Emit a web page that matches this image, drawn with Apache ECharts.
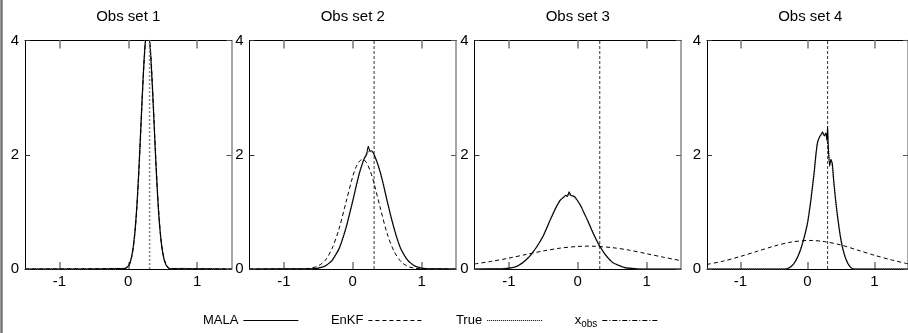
<!DOCTYPE html>
<html>
<head>
<meta charset="utf-8">
<script src="https://cdn.jsdelivr.net/npm/echarts@6/dist/echarts.min.js"></script>
<style>html,body{margin:0;padding:0;background:#fff;}#c{width:908px;height:333px;}</style>
</head>
<body>
<div id="c"></div>
<script>
// ---- data ----
const panelTitles = ['Obs set 1', 'Obs set 2', 'Obs set 3', 'Obs set 4'];
const xTicks = [-1, 0, 1];
const yTicks = [0, 2, 4];
const obsX = [0.31, 0.31, 0.32, 0.30];

// Panel 1
const p1X    = [-1.5, -0.05, 0, 0.025, 0.05, 0.075, 0.1, 0.125, 0.15, 0.175, 0.2, 0.225, 0.25, 0.275, 0.3, 0.325, 0.35, 0.375, 0.4, 0.425, 0.45, 0.475, 0.5, 0.525, 0.55, 0.575, 0.6, 1.5];
const p1Mala = [0, 0.01, 0.05, 0.11, 0.22, 0.41, 0.69, 1.10, 1.64, 2.28, 2.94, 3.55, 4.0, 4.2, 4.11, 3.76, 3.2, 2.55, 1.89, 1.31, 0.84, 0.51, 0.29, 0.15, 0.07, 0.03, 0.01, 0];
const p1Enkf = [0, 0.01, 0.04, 0.10, 0.21, 0.39, 0.67, 1.07, 1.60, 2.22, 2.90, 3.52, 3.98, 4.2, 4.13, 3.80, 3.25, 2.60, 1.94, 1.35, 0.87, 0.53, 0.30, 0.16, 0.08, 0.03, 0.01, 0];
const p1True = [0, 0.01, 0.05, 0.11, 0.22, 0.40, 0.68, 1.09, 1.62, 2.26, 2.93, 3.55, 4.02, 4.22, 4.12, 3.78, 3.22, 2.57, 1.90, 1.32, 0.85, 0.52, 0.29, 0.15, 0.07, 0.03, 0.01, 0];

// Panel 2
const p2X    = [-1.5, -0.6, -0.5, -0.4, -0.3, -0.2, -0.1, 0, 0.05, 0.1, 0.15, 0.175, 0.2, 0.225, 0.25, 0.275, 0.3, 0.35, 0.4, 0.45, 0.5, 0.55, 0.6, 0.65, 0.7, 0.8, 0.9, 1.0, 1.1, 1.5];
const p2Mala = [0, 0.004, 0.016, 0.052, 0.15, 0.35, 0.71, 1.19, 1.45, 1.69, 1.88, 1.95, 2.00, 2.15, 2.06, 2.07, 2.03, 1.88, 1.69, 1.45, 1.19, 0.94, 0.71, 0.51, 0.35, 0.15, 0.052, 0.016, 0.004, 0];
const p2True = [0, 0.004, 0.017, 0.054, 0.15, 0.36, 0.72, 1.20, 1.46, 1.70, 1.88, 1.96, 2.02, 2.05, 2.06, 2.05, 2.02, 1.89, 1.70, 1.46, 1.20, 0.95, 0.72, 0.52, 0.35, 0.15, 0.054, 0.017, 0.004, 0];
const p2EnkfX = [-1.5, -0.8, -0.7, -0.6, -0.5, -0.4, -0.3, -0.2, -0.1, 0, 0.05, 0.1, 0.15, 0.2, 0.25, 0.3, 0.4, 0.5, 0.6, 0.7, 0.8, 0.9, 1.0, 1.5];
const p2Enkf  = [0, 0.001, 0.004, 0.017, 0.055, 0.15, 0.36, 0.70, 1.16, 1.62, 1.79, 1.89, 1.92, 1.86, 1.73, 1.54, 1.07, 0.62, 0.31, 0.13, 0.044, 0.013, 0.003, 0];

// Panel 3
const p3X    = [-1.5, -1.1, -1.0, -0.9, -0.8, -0.7, -0.6, -0.5, -0.4, -0.35, -0.3, -0.25, -0.2, -0.175, -0.15, -0.125, -0.1, -0.05, 0, 0.05, 0.1, 0.15, 0.2, 0.25, 0.3, 0.35, 0.4, 0.5, 0.6, 0.7, 0.8, 0.9, 1.5];
const p3Mala = [0, 0.005, 0.015, 0.04, 0.11, 0.22, 0.38, 0.58, 0.86, 0.99, 1.11, 1.21, 1.26, 1.29, 1.27, 1.35, 1.29, 1.27, 1.19, 1.09, 0.96, 0.83, 0.69, 0.56, 0.44, 0.34, 0.25, 0.12, 0.06, 0.02, 0.01, 0, 0];
const p3True = [0, 0.005, 0.016, 0.04, 0.11, 0.22, 0.38, 0.59, 0.86, 1.00, 1.12, 1.21, 1.27, 1.28, 1.30, 1.30, 1.29, 1.26, 1.19, 1.09, 0.96, 0.83, 0.69, 0.56, 0.44, 0.34, 0.25, 0.12, 0.06, 0.02, 0.01, 0, 0];
const p3EnkfX = [-1.5, -1.25, -1.0, -0.75, -0.5, -0.25, 0, 0.15, 0.25, 0.5, 0.75, 1.0, 1.25, 1.5];
const p3Enkf  = [0.088, 0.135, 0.19, 0.255, 0.316, 0.366, 0.395, 0.40, 0.398, 0.374, 0.33, 0.268, 0.205, 0.146];

// Panel 4
const p4X    = [-1.5, -0.35, -0.3, -0.25, -0.2, -0.15, -0.1, -0.05, 0, 0.05, 0.1, 0.125, 0.15, 0.175, 0.2, 0.225, 0.25, 0.275, 0.29, 0.3, 0.31, 0.33, 0.35, 0.37, 0.39, 0.42, 0.45, 0.5, 0.55, 0.6, 0.65, 0.7, 1.5];
const p4Mala = [0, 0, 0.01, 0.04, 0.10, 0.20, 0.35, 0.55, 0.80, 1.20, 1.70, 2.00, 2.22, 2.30, 2.35, 2.40, 2.33, 2.38, 2.25, 2.50, 2.15, 1.80, 1.92, 1.85, 1.55, 1.20, 0.90, 0.50, 0.25, 0.10, 0.02, 0, 0];
const p4True = [0, 0, 0.01, 0.04, 0.10, 0.21, 0.36, 0.56, 0.82, 1.22, 1.68, 1.98, 2.20, 2.30, 2.34, 2.36, 2.35, 2.33, 2.28, 2.22, 2.12, 1.90, 1.88, 1.80, 1.58, 1.22, 0.92, 0.52, 0.26, 0.11, 0.03, 0, 0];
const p4EnkfX = [-1.5, -1.25, -1.0, -0.75, -0.5, -0.25, 0.03, 0.25, 0.5, 0.75, 1.0, 1.25, 1.5];
const p4Enkf  = [0.08, 0.14, 0.22, 0.31, 0.40, 0.47, 0.50, 0.48, 0.42, 0.33, 0.24, 0.16, 0.09];

const seriesNames = ['MALA', 'EnKF', 'True', 'x_obs'];

// ---- build ----
const panels = [
  {malaX: p1X, mala: p1Mala, trueX: p1X, tru: p1True, enkfX: p1X, enkf: p1Enkf},
  {malaX: p2X, mala: p2Mala, trueX: p2X, tru: p2True, enkfX: p2EnkfX, enkf: p2Enkf},
  {malaX: p3X, mala: p3Mala, trueX: p3X, tru: p3True, enkfX: p3EnkfX, enkf: p3Enkf},
  {malaX: p4X, mala: p4Mala, trueX: p4X, tru: p4True, enkfX: p4EnkfX, enkf: p4Enkf}
];
const zip = (xs, ys) => xs.map((x, i) => [x, ys[i]]);

const gridLefts = [25, 249.5, 474.5, 707];
const gridW = 206.5;
const gridTop = 40.5;
const gridH = 228.5;
const FONT = "'Liberation Sans Narrow', 'Arial Narrow', 'Liberation Sans', sans-serif";

const grids = [], xAxes = [], yAxes = [], series = [], graphics = [];
panels.forEach((p, i) => {
  grids.push({left: gridLefts[i], top: gridTop, width: gridW, height: gridH, containLabel: false});
  xAxes.push({
    type: 'value', gridIndex: i, min: -1.5, max: 1.5, position: 'bottom',
    axisLine: {show: true, onZero: false, lineStyle: {color: '#000', width: 1}},
    axisTick: {show: true, inside: true, length: 7, customValues: xTicks, lineStyle: {color: '#999', width: 2}},
    axisLabel: {show: true, customValues: xTicks, color: '#000', fontSize: 15, fontFamily: FONT, margin: 5},
    splitLine: {show: false}
  });
  xAxes.push({
    type: 'value', gridIndex: i, min: -1.5, max: 1.5, position: 'top',
    axisLine: {show: true, onZero: false, lineStyle: {color: '#000', width: 1}},
    axisTick: {show: true, inside: true, length: 8, customValues: xTicks, lineStyle: {color: '#999', width: 2}},
    axisLabel: {show: false},
    splitLine: {show: false}
  });
  yAxes.push({
    type: 'value', gridIndex: i, min: 0, max: 4, interval: 2, position: 'left',
    axisLine: {show: true, onZero: false, lineStyle: {color: '#000', width: 1}},
    axisTick: {show: true, inside: true, length: 5, lineStyle: {color: '#333', width: 1}},
    axisLabel: {show: true, color: '#000', fontSize: 15, fontFamily: FONT, margin: 6},
    splitLine: {show: false}
  });
  yAxes.push({
    type: 'value', gridIndex: i, min: 0, max: 4, interval: 2, position: 'right',
    axisLine: {show: true, onZero: false, lineStyle: {color: '#888', width: 1.5}},
    axisTick: {show: true, inside: true, length: 5, lineStyle: {color: '#555', width: 1}},
    axisLabel: {show: false},
    splitLine: {show: false}
  });
  const xi = i * 2, yi = i * 2;
  series.push({
    name: 'True', type: 'line', xAxisIndex: xi, yAxisIndex: yi, symbol: 'none', smooth: 0.2,
    data: zip(p.trueX, p.tru), itemStyle: {color: '#000'}, lineStyle: {color: '#888', width: 1.6, type: [1, 1]}, z: 2
  });
  series.push({
    name: 'EnKF', type: 'line', xAxisIndex: xi, yAxisIndex: yi, symbol: 'none', smooth: 0.3,
    data: zip(p.enkfX, p.enkf), itemStyle: {color: '#000'}, lineStyle: {color: '#000', width: 1, type: [4, 3]}, z: 3
  });
  series.push({
    name: 'MALA', type: 'line', xAxisIndex: xi, yAxisIndex: yi, symbol: 'none', smooth: 0.15,
    data: zip(p.malaX, p.mala), itemStyle: {color: '#000'}, lineStyle: {color: '#000', width: 1.1, type: 'solid'}, z: 4
  });
  series.push({
    name: 'x_obs', type: 'line', xAxisIndex: xi, yAxisIndex: yi, symbol: 'none',
    data: [[obsX[i], 0], [obsX[i], 4]], itemStyle: {color: '#000'},
    lineStyle: i === 0 ? {color: '#888', width: 1.6, type: [2, 2]} : {color: '#000', width: 0.8, type: [3, 2]}, z: 5
  });
  graphics.push({
    type: 'text', x: gridLefts[i] + gridW / 2, y: 17,
    style: {text: panelTitles[i], fill: '#000', font: '15px ' + FONT, textAlign: 'center', textVerticalAlign: 'middle'}
  });
});

graphics.push({type: 'line', shape: {x1: 1.5, y1: 0, x2: 1.5, y2: 333}, style: {stroke: '#777', lineWidth: 2.5}});

const hidden = {opacity: 0, color: 'transparent', borderWidth: 0};
const option = {
  animation: false,
  backgroundColor: '#fff',
  grid: grids,
  xAxis: xAxes,
  yAxis: yAxes,
  series: series,
  graphic: graphics,
  legend: {
    top: 309, left: 198, align: 'right', itemWidth: 55, itemHeight: 10, itemGap: 32,
    textStyle: {fontSize: 13, color: '#000', fontFamily: "'Liberation Sans', sans-serif",
      rich: {sub: {fontSize: 10, fontFamily: "'Liberation Sans', sans-serif", padding: [8, 0, 0, 0]}}},
    formatter: name => name === 'x_obs' ? 'x{sub|obs}' : name,
    data: [
      {name: 'MALA', itemStyle: hidden, lineStyle: {color: '#000', width: 1, type: 'solid'}},
      {name: 'EnKF', itemStyle: hidden, lineStyle: {color: '#000', width: 1, type: [4, 3]}},
      {name: 'True', itemStyle: hidden, lineStyle: {color: '#000', width: 1, type: [1, 1]}},
      {name: 'x_obs', itemStyle: hidden, lineStyle: {color: '#000', width: 1, type: [5, 2, 1, 2]}}
    ]
  }
};

const chart = echarts.init(document.getElementById('c'), null, {renderer: 'canvas'});
chart.setOption(option);
</script>
</body>
</html>
